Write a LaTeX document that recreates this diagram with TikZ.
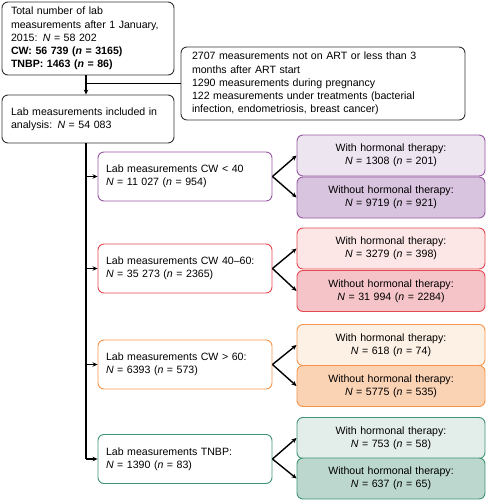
\documentclass[tikz,border=0pt]{standalone}
\usepackage{fontspec}
\setmainfont{Liberation Sans}
\usetikzlibrary{arrows.meta}

\definecolor{purpleline}{RGB}{150,88,162}
\definecolor{purplelight}{RGB}{237,229,240}
\definecolor{purpledark}{RGB}{217,196,223}
\definecolor{redline}{RGB}{228,72,80}
\definecolor{redlight}{RGB}{252,230,230}
\definecolor{reddark}{RGB}{245,196,200}
\definecolor{orangeline}{RGB}{246,148,74}
\definecolor{orangelight}{RGB}{253,240,228}
\definecolor{orangedark}{RGB}{250,210,180}
\definecolor{greenline}{RGB}{62,148,115}
\definecolor{greenlight}{RGB}{227,238,234}
\definecolor{greendark}{RGB}{188,216,206}
\definecolor{boxline}{RGB}{50,50,50}

\newcommand{\NN}{\textit{N}}
\newcommand{\nn}{\textit{n}}

\begin{document}
\begin{tikzpicture}[x = 1pt, y = -1pt,
  every node/.style={draw, rounded corners = 6pt, line width = .9pt, inner sep = 0pt,
    font=\fontsize{10.6}{13.2}\selectfont},
  mainbox/.style={draw = boxline, minimum width = 172pt, text width = 154pt, align = left},
  catbox/.style={minimum width = 174pt, minimum height = 49pt, text width = 158pt, align = left},
  subbox/.style={minimum width = 188pt, minimum height = 41pt, text width = 180pt, align = center},
  link/.style={line width = 1.4pt, -{Stealth[length = 5pt, width = 4.5pt]}}]
  \useasboundingbox (0,0) rectangle (487,500);
  \node (total) [mainbox, minimum height = 73pt] at (88,38.5)
    {Total number of lab\\measurements after 1 January,\\2015: \NN{} = 58 202\\
     \textbf{CW: 56 739 (\textit{n} = 3165)}\\\textbf{TNBP: 1463 (\textit{n} = 86)}};
  \node (excl) [mainbox, minimum width = 284pt, minimum height = 73pt, text width = 262pt] at (323,83.5)
    {2707 measurements not on ART or less than 3\\months after ART start\\
     1290 measurements during pregnancy\\122 measurements under treatments (bacterial\\
     infection, endometriosis, breast cancer)};
  \node (incl) [mainbox, minimum height = 48pt] at (88,119)
    {Lab measurements included in\\analysis: \NN{} = 54 083};
  \node (cw1) [catbox, draw = purpleline] at (185,176.5) {Lab measurements CW < 40\\\NN{} = 11 027 (\nn{} = 954)};
  \node (cw2) [catbox, draw = redline] at (185,268.5) {Lab measurements CW 40--60:\\\NN{} = 35 273 (\nn{} = 2365)};
  \node (cw3) [catbox, draw = orangeline] at (185,364.5) {Lab measurements CW > 60:\\\NN{} = 6393 (\nn{} = 573)};
  \node (tnbp) [catbox, draw = greenline] at (185,459) {Lab measurements TNBP:\\\NN{} = 1390 (\nn{} = 83)};
  \node (cw1h) [subbox, draw = purpleline, fill = purplelight] at (391,155.5) {With hormonal therapy:\\\NN{} = 1308 (\nn{} = 201)};
  \node (cw1n) [subbox, draw = purpleline, fill = purpledark] at (391,197.5) {Without hormonal therapy:\\\NN{} = 9719 (\nn{} = 921)};
  \node (cw2h) [subbox, draw = redline, fill = redlight] at (391,248.5) {With hormonal therapy:\\\NN{} = 3279 (\nn{} = 398)};
  \node (cw2n) [subbox, draw = redline, fill = reddark] at (391,291) {Without hormonal therapy:\\\NN{} = 31 994 (\nn{} = 2284)};
  \node (cw3h) [subbox, draw = orangeline, fill = orangelight] at (391,345) {With hormonal therapy:\\\NN{} = 618 (\nn{} = 74)};
  \node (cw3n) [subbox, draw = orangeline, fill = orangedark] at (391,386) {Without hormonal therapy:\\\NN{} = 5775 (\nn{} = 535)};
  \node (tnbph) [subbox, draw = greenline, fill = greenlight] at (391,438) {With hormonal therapy:\\\NN{} = 753 (\nn{} = 58)};
  \node (tnbpn) [subbox, draw = greenline, fill = greendark] at (391,478.5) {Without hormonal therapy:\\\NN{} = 637 (\nn{} = 65)};
  \coordinate (split) at (86,83.5);
  \coordinate (trunk) at (86,459);
  \draw [link] (total.south -| split) -- (incl.north -| split);
  \draw [line width = 1.4pt] (split) -- (excl.west);
  \draw [line width = 1.4pt] (incl.south -| split) -- (trunk);
  \draw [link] (cw1.west -| trunk) -- (cw1.west);
  \draw [link] (cw2.west -| trunk) -- (cw2.west);
  \draw [link] (cw3.west -| trunk) -- (cw3.west);
  \draw [link] (trunk) -- (tnbp.west);
  \draw [link] (cw1.east) -- (cw1h.west);
  \draw [link] (cw1.east) -- (cw1n.west);
  \draw [link] (cw2.east) -- (cw2h.west);
  \draw [link] (cw2.east) -- (cw2n.west);
  \draw [link] (cw3.east) -- (cw3h.west);
  \draw [link] (cw3.east) -- (cw3n.west);
  \draw [link] (tnbp.east) -- (tnbph.west);
  \draw [link] (tnbp.east) -- (tnbpn.west);
\end{tikzpicture}
\end{document}
